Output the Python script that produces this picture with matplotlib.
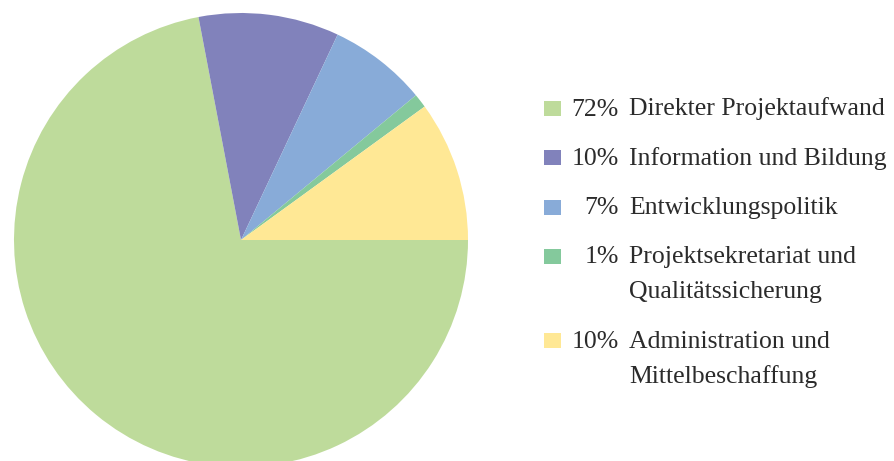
import matplotlib.pyplot as plt
from matplotlib.patches import Rectangle

# shares in percent, in the order they are drawn (clockwise from 3 o'clock)
shares = [72, 10, 7, 1, 10]
labels = ["Direkter Projektaufwand",
          "Information und Bildung",
          "Entwicklungspolitik",
          "Projektsekretariat und\nQualitätssicherung",
          "Administration und\nMittelbeschaffung"]
colors = ["#bedb9b", "#8182bb", "#88abd8", "#84c99c", "#ffe895"]

W, H = 895, 461
plt.rcParams['font.family'] = ['Liberation Serif', 'DejaVu Serif']

fig = plt.figure(figsize=(W / 100, H / 100), dpi=100)

# pie: centre (241, 240) px, radius 227 px -> goes past the bottom edge
cx, cy, r = 241, 240, 227
ax = fig.add_axes([(cx - r) / W, (H - cy - r) / H, 2 * r / W, 2 * r / H])
ax.pie(shares, colors=colors, startangle=0, counterclock=False,
       wedgeprops=dict(linewidth=0))
ax.set_xlim(-1, 1)
ax.set_ylim(-1, 1)
ax.set_aspect('auto')
ax.axis('off')

# legend, drawn by hand so the percentages line up on the right
def fx(x):
    return x / W

def fy(y):
    return 1 - y / H

base = 115.5
item_gap = 49.3
line_gap = 35
txt = "#2b2b2b"
fs = 18.5
for share, label, col in zip(shares, labels, colors):
    fig.patches.append(Rectangle((fx(544), fy(base + 0.5)), 17 / W, 15 / H,
                                 transform=fig.transFigure, color=col,
                                 linewidth=0))
    fig.text(fx(619), fy(base), f"{share}%", ha='right', va='baseline',
             fontsize=fs, color=txt)
    lines = label.split("\n")
    for i, ln in enumerate(lines):
        fig.text(fx(629), fy(base + i * line_gap), ln, ha='left',
                 va='baseline', fontsize=fs, color=txt)
    base += item_gap + (len(lines) - 1) * line_gap

fig.savefig("out.png", dpi=100)
